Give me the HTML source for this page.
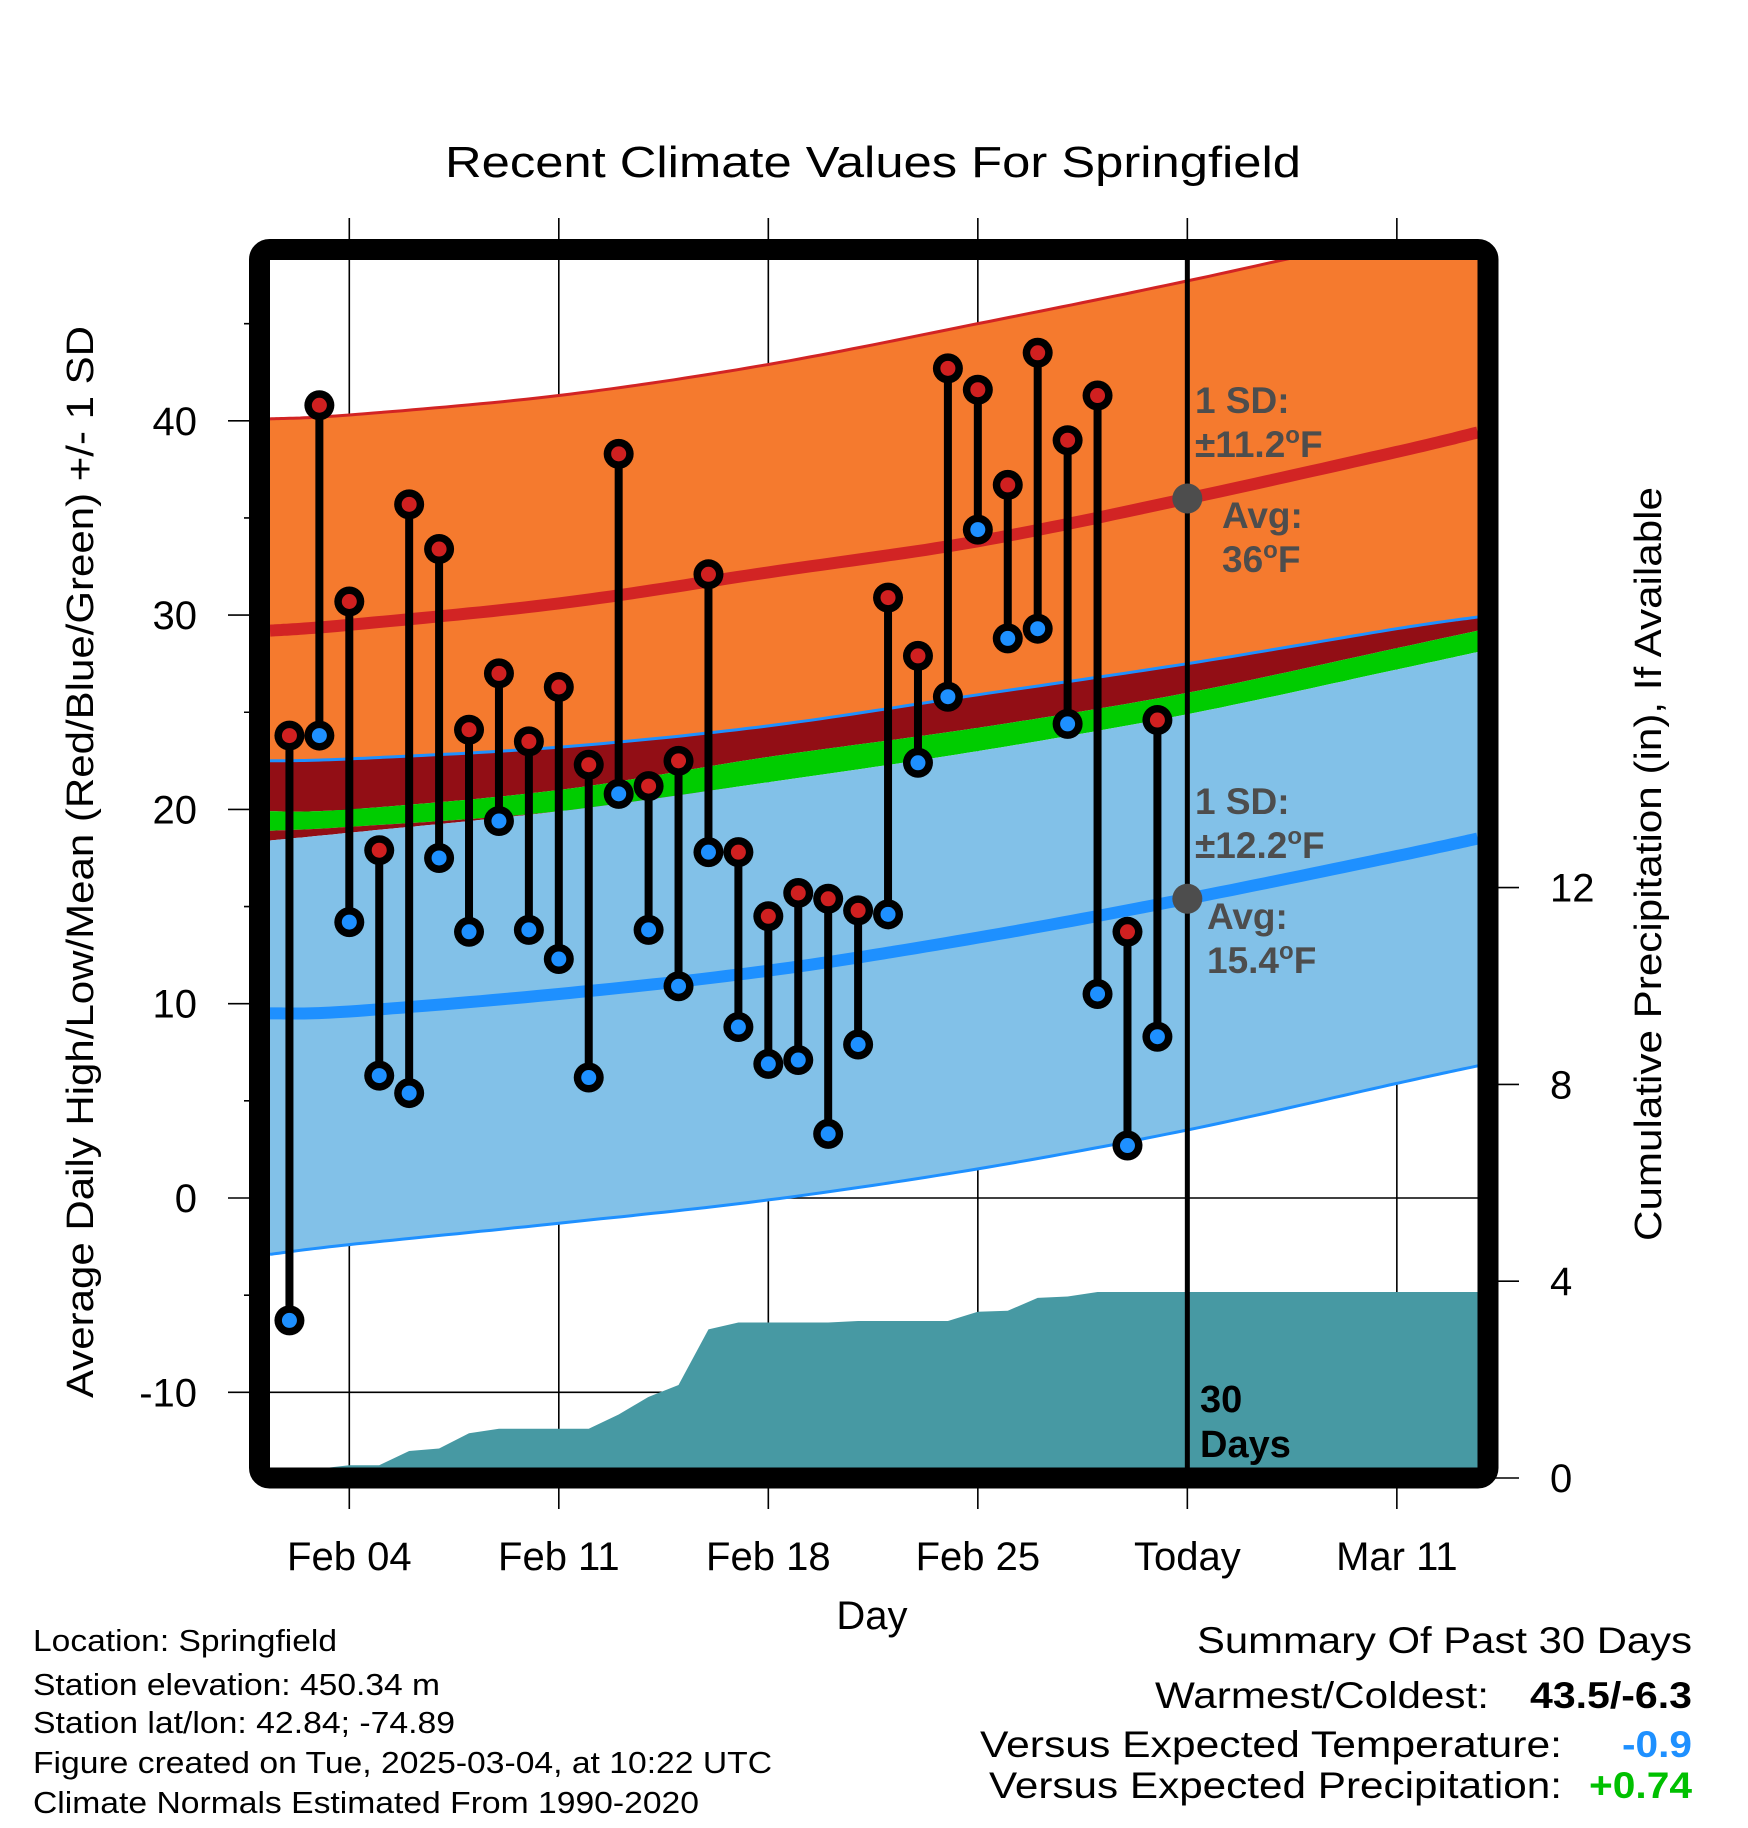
<!DOCTYPE html>
<html><head><meta charset="utf-8">
<style>
html,body{margin:0;padding:0;background:#fff;}
svg{display:block;font-family:"Liberation Sans",Arial,sans-serif;}
</style></head>
<body>
<svg id="chart" width="1748" height="1828" viewBox="0 0 1748 1828" xmlns="http://www.w3.org/2000/svg">
<defs><clipPath id="plotclip"><rect x="270" y="260" width="1208" height="1208"/></clipPath></defs>
<rect x="0" y="0" width="1748" height="1828" fill="#fff"/>
<text x="873" y="177" font-size="44" text-anchor="middle" textLength="856" lengthAdjust="spacingAndGlyphs">Recent Climate Values For Springfield</text>
<g id="outer-grid"></g>
<g id="plot" clip-path="url(#plotclip)"></g>
<g id="marks"></g>
<rect x="259.5" y="249.5" width="1228.5" height="1228.5" rx="10" fill="none" stroke="#000" stroke-width="21"/>
<g id="axes"></g>
<g id="annot" font-weight="bold" fill="#4d4d4d" font-size="37">
  <text x="1195" y="413">1 SD:</text>
  <text x="1195" y="457">±11.2<tspan dy="-14" font-size="24">o</tspan><tspan dy="14">F</tspan></text>
  <text x="1222" y="528">Avg:</text>
  <text x="1222" y="572">36<tspan dy="-14" font-size="24">o</tspan><tspan dy="14">F</tspan></text>
  <text x="1195" y="814">1 SD:</text>
  <text x="1195" y="858">±12.2<tspan dy="-14" font-size="24">o</tspan><tspan dy="14">F</tspan></text>
  <text x="1207" y="929">Avg:</text>
  <text x="1207" y="973">15.4<tspan dy="-14" font-size="24">o</tspan><tspan dy="14">F</tspan></text>
  <text x="1200" y="1412" fill="#000" font-size="38">30</text>
  <text x="1200" y="1457" fill="#000" font-size="38">Days</text>
</g>
<text x="872" y="1629" font-size="40" text-anchor="middle">Day</text>
<text transform="translate(93,862) rotate(-90)" font-size="38" text-anchor="middle" textLength="1072" lengthAdjust="spacingAndGlyphs">Average Daily High/Low/Mean (Red/Blue/Green) +/- 1 SD</text>
<text transform="translate(1661,864) rotate(-90)" font-size="38" text-anchor="middle" textLength="754" lengthAdjust="spacingAndGlyphs">Cumulative Precipitation (in), If Available</text>
<g font-size="31">
  <text x="33" y="1651" textLength="304" lengthAdjust="spacingAndGlyphs">Location: Springfield</text>
  <text x="33" y="1695" textLength="407" lengthAdjust="spacingAndGlyphs">Station elevation: 450.34 m</text>
  <text x="33" y="1733" textLength="422" lengthAdjust="spacingAndGlyphs">Station lat/lon: 42.84; -74.89</text>
  <text x="33" y="1773" textLength="739" lengthAdjust="spacingAndGlyphs">Figure created on Tue, 2025-03-04, at 10:22 UTC</text>
  <text x="33" y="1813" textLength="666" lengthAdjust="spacingAndGlyphs">Climate Normals Estimated From 1990-2020</text>
</g>
<g font-size="37">
  <text x="1197" y="1653" textLength="495" lengthAdjust="spacingAndGlyphs">Summary Of Past 30 Days</text>
  <text x="1155" y="1708" textLength="334" lengthAdjust="spacingAndGlyphs">Warmest/Coldest:</text>
  <text x="1530" y="1708" font-weight="bold" textLength="162" lengthAdjust="spacingAndGlyphs">43.5/-6.3</text>
  <text x="980" y="1757" textLength="582" lengthAdjust="spacingAndGlyphs">Versus Expected Temperature:</text>
  <text x="1622" y="1757" font-weight="bold" fill="#1e90ff" textLength="70" lengthAdjust="spacingAndGlyphs">-0.9</text>
  <text x="989" y="1798" textLength="573" lengthAdjust="spacingAndGlyphs">Versus Expected Precipitation:</text>
  <text x="1589" y="1798" font-weight="bold" fill="#00c000" textLength="103" lengthAdjust="spacingAndGlyphs">+0.74</text>
</g>
</svg>
<script>
// days measured from Feb 04 (=0)
const normDays = [-2.65, 0, 7, 14, 21, 28, 35, 37.7];
const hiUpper  = [40.1, 40.3, 41.3, 42.9, 45.0, 47.2, 49.6, 50.5];
const hiMean   = [29.2, 29.5, 30.6, 32.2, 33.8, 36.0, 38.4, 39.4];
const loUpper  = [22.5, 22.6, 23.2, 24.3, 25.9, 27.5, 29.3, 29.9];
const greenTop = [19.9, 20.0, 21.0, 22.7, 24.2, 26.0, 28.3, 29.2];
const greenBot = [18.9, 19.1, 19.9, 21.4, 23.0, 24.9, 27.2, 28.1];
const blueTop  = [18.4, 18.8, 19.9, 21.4, 23.0, 24.9, 27.2, 28.1];
const loMean   = [9.5, 9.6, 10.5, 11.7, 13.4, 15.4, 17.6, 18.5];
const loLower  = [-2.9, -2.4, -1.3, -0.1, 1.5, 3.5, 5.9, 6.8];

const obsDays = [-2,-1,0,1,2,3,4,5,6,7,8,9,10,11,12,13,14,15,16,17,18,19,20,21,22,23,24,25,26,27];
const highs = [23.8,40.8,30.7,17.9,35.7,33.4,24.1,27.0,23.5,26.3,22.3,38.3,21.2,22.5,32.1,17.8,14.5,15.7,15.4,14.8,30.9,27.9,42.7,41.6,36.7,43.5,39.0,41.3,13.7,24.6];
const lows  = [-6.3,23.8,14.2,6.3,5.4,17.5,13.7,19.4,13.8,12.3,6.2,20.8,13.8,10.9,17.8,8.8,6.9,7.1,3.3,7.9,14.6,22.4,25.8,34.4,28.8,29.3,24.4,10.5,2.7,8.3];
const precip = [0.17,0.19,0.26,0.26,0.55,0.6,0.91,1.0,1.0,1.0,1.0,1.29,1.65,1.89,3.02,3.16,3.16,3.16,3.16,3.19,3.19,3.19,3.19,3.38,3.4,3.66,3.69,3.78,3.78,3.78];

const tempTicks = [-10,0,10,20,30,40];
const tempMinor = [-15,-5,5,15,25,35,45];
const precipTicks = [0,4,8,12];
const xTickDays = [0,7,14,21,28,35];
const xTickLabels = ["Feb 04","Feb 11","Feb 18","Feb 25","Today","Mar 11"];
const todayDay = 28;

const xDay = d => 349.3 + d*29.93;
const yT = t => 1198 - t*19.43;
const yP = p => 1478 - p*49.2;
const NS = "http://www.w3.org/2000/svg";

function mk(tag, attrs, parent){ const e=document.createElementNS(NS,tag); for(const k in attrs) e.setAttribute(k,attrs[k]); parent.appendChild(e); return e; }

function curve(vals){
  const pts=[]; const n=normDays.length;
  for(let i=0;i<n-1;i++){
    const d0=normDays[Math.max(i-1,0)], d1=normDays[i], d2=normDays[i+1], d3=normDays[Math.min(i+2,n-1)];
    const v0=vals[Math.max(i-1,0)], v1=vals[i], v2=vals[i+1], v3=vals[Math.min(i+2,n-1)];
    for(let s=0;s<20;s++){
      const t=s/20, t2=t*t, t3=t2*t;
      const f=(p0,p1,p2,p3)=>0.5*((2*p1)+(-p0+p2)*t+(2*p0-5*p1+4*p2-p3)*t2+(-p0+3*p1-3*p2+p3)*t3);
      pts.push([xDay(f(d0,d1,d2,d3)), yT(f(v0,v1,v2,v3))]);
    }
  }
  pts.push([xDay(normDays[n-1]), yT(vals[n-1])]);
  return pts;
}
function band(top,bot,fill,name){
  const a=curve(top), b=curve(bot).reverse();
  const d="M"+a.map(p=>p[0].toFixed(1)+","+p[1].toFixed(1)).join("L")+"L"+b.map(p=>p[0].toFixed(1)+","+p[1].toFixed(1)).join("L")+"Z";
  const e=mk("path",{d:d,fill:fill},plot);
  
  
}
function line(vals,color,w,name){
  const a=curve(vals);
  const e=mk("path",{d:"M"+a.map(p=>p[0].toFixed(1)+","+p[1].toFixed(1)).join("L"),fill:"none",stroke:color,"stroke-width":w},plot);
  
  
}

const plot=document.getElementById("plot");
const outer=document.getElementById("outer-grid");
const axes=document.getElementById("axes");
const marks=document.getElementById("marks");

band(hiUpper, loUpper, "#f57a2e", "high-sd-band");
band(loUpper, greenTop, "#920e15", "overlap-band");
band(greenTop, greenBot, "#00cc00", "mean-band");
band(greenBot, blueTop, "#920e15", "overlap-band-lower");
band(blueTop, loLower, "#82c1e8", "low-sd-band");

{
  let d="M"+xDay(obsDays[0]-0.65)+","+yP(0);
  d+="L"+xDay(obsDays[0]-0.65)+","+yP(precip[0]);
  for(let i=0;i<obsDays.length;i++) d+="L"+xDay(obsDays[i])+","+yP(precip[i]);
  d+="L"+xDay(40)+","+yP(precip[precip.length-1])+"L"+xDay(40)+","+yP(0)+"Z";
  const e=mk("path",{d:d,fill:"#4799a3"},plot);
  
  
}

tempTicks.forEach(t=>{
  const e=mk("line",{x1:228,x2:1478,y1:yT(t),y2:yT(t),stroke:"#000","stroke-width":1.6},outer);
  
  
  const l=mk("text",{x:197,y:yT(t)+14,"font-size":40,"text-anchor":"end"},axes);
  l.textContent=t;
  
  
});
tempMinor.forEach(t=>{
  if(yT(t)<260||yT(t)>1468) return;
  const e=mk("line",{x1:244,x2:262,y1:yT(t),y2:yT(t),stroke:"#000","stroke-width":1.6},outer);
  
  
});
xTickDays.forEach((d,i)=>{
  const e=mk("line",{x1:xDay(d),x2:xDay(d),y1:218,y2:1509,stroke:"#000","stroke-width":1.6},outer);
  
  
  const l=mk("text",{x:xDay(d),y:1570,"font-size":40,"text-anchor":"middle"},axes);
  l.textContent=xTickLabels[i];
  
  
});
precipTicks.forEach(p=>{
  const e=mk("line",{x1:1490,x2:1519,y1:yP(p),y2:yP(p),stroke:"#000","stroke-width":1.6},axes);
  
  
  const l=mk("text",{x:1550,y:yP(p)+14,"font-size":40},axes);
  l.textContent=p;
  
  
});

line(hiUpper, "#d22424", 3, "high-sd-upper-line");
line(hiMean, "#d22424", 12, "high-mean-line");
line(loUpper, "#1e90ff", 3, "low-sd-upper-line");
line(loLower, "#1e90ff", 3, "low-sd-lower-line");
line(loMean, "#1e90ff", 12, "low-mean-line");

{
  const e=mk("line",{x1:xDay(todayDay),x2:xDay(todayDay),y1:255,y2:1478,stroke:"#000","stroke-width":5},marks);
  
  
  const c1=mk("circle",{cx:xDay(todayDay),cy:yT(36),r:15,fill:"#4d4d4d"},marks);
  
  
  const c2=mk("circle",{cx:xDay(todayDay),cy:yT(15.4),r:15,fill:"#4d4d4d"},marks);
  
  
}

obsDays.forEach((d,i)=>{
  const x=xDay(d);
  const s=mk("line",{x1:x,x2:x,y1:yT(highs[i]),y2:yT(lows[i]),stroke:"#000","stroke-width":8},marks);
  
  
});
obsDays.forEach((d,i)=>{
  const x=xDay(d);
  const o1=mk("circle",{cx:x,cy:yT(highs[i]),r:15,fill:"#000"},marks);
  
  
  const h=mk("circle",{cx:x,cy:yT(highs[i]),r:7.5,fill:"#d02020"},marks);
  
  
  const o2=mk("circle",{cx:x,cy:yT(lows[i]),r:15,fill:"#000"},marks);
  
  
  const l=mk("circle",{cx:x,cy:yT(lows[i]),r:7.5,fill:"#1e90ff"},marks);
  
  
});
</script>
</body></html>
